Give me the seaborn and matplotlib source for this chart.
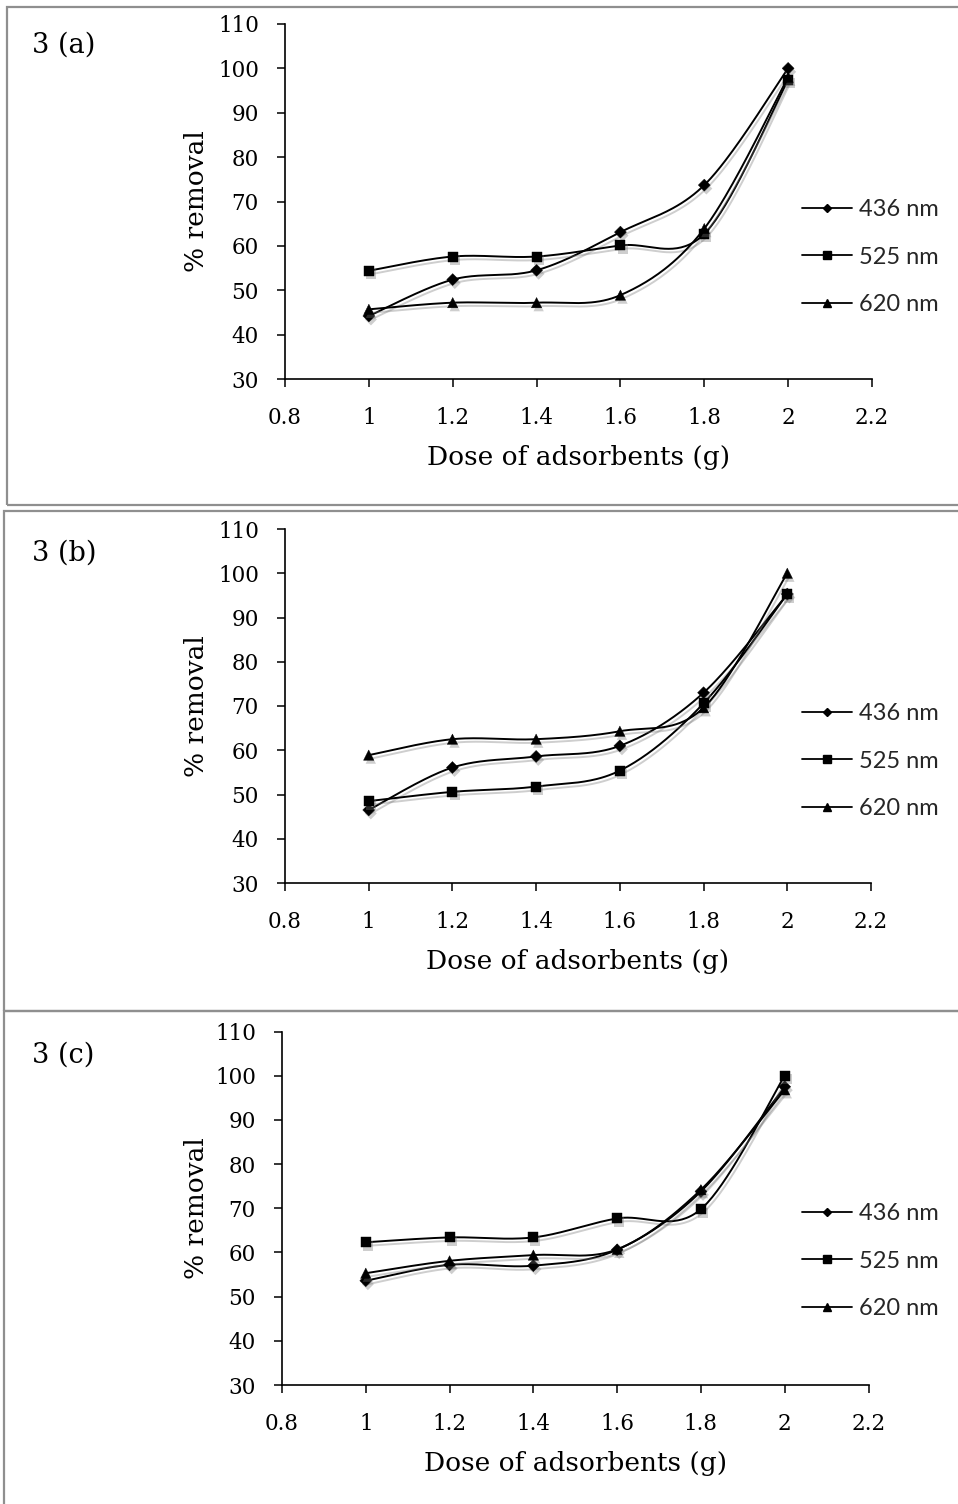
import numpy as np
import pandas as pd
import matplotlib
matplotlib.use("Agg")
import matplotlib.pyplot as plt
import matplotlib.patheffects as pe
from matplotlib.lines import Line2D
from matplotlib.patches import Rectangle
import seaborn as sns

# ---------------- data ----------------
dose = [1.0, 1.2, 1.4, 1.6, 1.8, 2.0]
series_labels = ["436 nm", "525 nm", "620 nm"]

a_436 = [44.2, 52.4, 54.5, 63.1, 73.7, 100.0]
a_525 = [54.4, 57.6, 57.6, 60.1, 62.7, 97.4]
a_620 = [45.7, 47.2, 47.2, 48.9, 63.9, 98.0]

b_436 = [46.5, 56.1, 58.6, 61.0, 73.0, 95.3]
b_525 = [48.5, 50.6, 51.8, 55.4, 70.6, 95.3]
b_620 = [58.9, 62.5, 62.5, 64.3, 69.6, 100.0]

c_436 = [53.6, 57.2, 57.0, 60.6, 73.8, 97.5]
c_525 = [62.3, 63.4, 63.4, 67.7, 69.8, 100.0]
c_620 = [55.3, 58.1, 59.4, 60.7, 74.2, 96.8]

panel_titles = ["3 (a)", "3 (b)", "3 (c)"]
x_ticks = [0.8, 1.0, 1.2, 1.4, 1.6, 1.8, 2.0, 2.2]
x_tick_labels = ["0.8", "1", "1.2", "1.4", "1.6", "1.8", "2", "2.2"]
y_ticks = [30, 40, 50, 60, 70, 80, 90, 100, 110]
x_label = "Dose of adsorbents (g)"
y_label = "% removal"

panels = [
    (panel_titles[0], [a_436, a_525, a_620]),
    (panel_titles[1], [b_436, b_525, b_620]),
    (panel_titles[2], [c_436, c_525, c_620]),
]

# ---------------- style ----------------
sns.set_theme(style="white")
plt.rcParams["font.family"] = ["DejaVu Serif"]

W, H = 958, 1504
fig = plt.figure(figsize=(W / 100, H / 100), dpi=100)

# axes boxes in pixels: left, right, top(110), bottom(30)
ax_px = [(285, 872, 24, 379), (285, 871, 529, 883), (282, 868.5, 1031.5, 1385)]
legend_mid_y = [257, 761, 1261]
title_base_y = [53, 561, 1063]
frames = [(7, 7, 505), (4, 511, 1011), (4, 1011, 1520)]

markers = ["D", "s", "^"]
scatter_sizes = [37, 52, 55]
legend_msizes = [4.0, 5.2, 6.0]

shadow_line = [pe.SimpleLineShadow(offset=(1.5, -2.5), shadow_color="0.45", alpha=0.35), pe.Normal()]
shadow_patch = [pe.SimplePatchShadow(offset=(1.5, -2.5), shadow_rgbFace="0.45", alpha=0.35), pe.Normal()]


def excel_smooth(xs, ys, sx, sy, n=40):
    P = np.column_stack([np.asarray(xs) * sx, np.asarray(ys) * sy])
    m = len(P)
    out = []
    for i in range(m - 1):
        p0 = P[i - 1] if i > 0 else P[i]
        p1, p2 = P[i], P[i + 1]
        p3 = P[i + 2] if i + 2 < m else P[i + 1]
        c1 = p1 + (p2 - p0) / 6.0
        c2 = p2 - (p3 - p1) / 6.0
        t = np.linspace(0, 1, n, endpoint=(i == m - 2))[:, None]
        seg = (1 - t) ** 3 * p1 + 3 * (1 - t) ** 2 * t * c1 + 3 * (1 - t) * t ** 2 * c2 + t ** 3 * p2
        out.append(seg)
    out = np.vstack(out)
    return out[:, 0] / sx, out[:, 1] / sy


for k, (title, series) in enumerate(panels):
    l, r, t, b = ax_px[k]
    ax = fig.add_axes([l / W, 1 - b / H, (r - l) / W, (b - t) / H])
    sx = (r - l) / 1.4
    sy = (b - t) / 80.0
    for vals, mk, ss in zip(series, markers, scatter_sizes):
        cx, cy = excel_smooth(dose, vals, sx, sy)
        df_curve = pd.DataFrame({"x": cx, "y": cy})
        sns.lineplot(data=df_curve, x="x", y="y", ax=ax, color="black", linewidth=1.4,
                     sort=False, estimator=None, path_effects=shadow_line, zorder=3)
        df_pts = pd.DataFrame({"x": dose, "y": vals})
        sns.scatterplot(data=df_pts, x="x", y="y", ax=ax, marker=mk, s=ss, color="black",
                        edgecolor="black", linewidth=0.3, path_effects=shadow_patch, zorder=4)

    ax.set_xlim(0.8, 2.2)
    ax.set_ylim(30, 110)
    ax.set_xticks(x_ticks)
    ax.set_xticklabels(x_tick_labels)
    ax.set_yticks(y_ticks)
    ax.set_yticklabels([str(v) for v in y_ticks])
    for side in ["top", "right"]:
        ax.spines[side].set_visible(False)
    for side in ["left", "bottom"]:
        ax.spines[side].set_color("black")
        ax.spines[side].set_linewidth(1.2)
    ax.tick_params(axis="both", direction="out", length=5.8, width=1.1, color="black",
                   labelsize=15.5, labelcolor="black")
    ax.tick_params(axis="x", pad=14, bottom=True)
    ax.tick_params(axis="y", pad=13, left=True)
    ax.set_xlabel(x_label, fontsize=19, color="black")
    ax.set_ylabel(y_label, fontsize=19, color="black")
    ax.xaxis.set_label_coords(0.5, -(445 - 379) / 355)
    ax.yaxis.set_label_coords(-(l - 209) / (r - l), 0.5)
    ax.set_facecolor("white")
    ax.grid(False)
    if ax.get_legend() is not None:
        ax.get_legend().remove()

    handles = [Line2D([0], [0], color="black", lw=1.3, marker=mk, markersize=ms)
               for mk, ms in zip(markers, legend_msizes)]
    fig.legend(handles, series_labels, loc="center left",
               bbox_to_anchor=(802 / W, 1 - legend_mid_y[k] / H),
               bbox_transform=fig.transFigure, frameon=False, borderpad=0,
               borderaxespad=0, handlelength=2.1, handletextpad=0.3,
               labelspacing=1.13, prop={"family": "Lato", "size": 17})

    fig.text(32 / W, 1 - title_base_y[k] / H, title, fontsize=19.5, va="baseline",
             ha="left", color="black")

    fx, fy_top, fy_bot = frames[k]
    fig.add_artist(Rectangle((fx / W, 1 - fy_bot / H), (W + 20 - fx) / W, (fy_bot - fy_top) / H,
                             transform=fig.transFigure, fill=False, edgecolor="#8f8f8f",
                             linewidth=1.6, clip_on=False))

fig.savefig("out.png", dpi=100, facecolor="white")
